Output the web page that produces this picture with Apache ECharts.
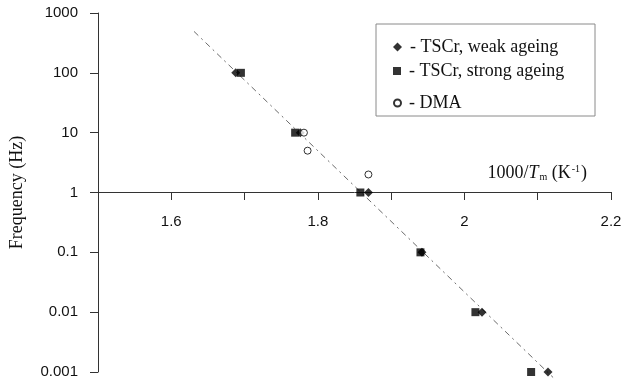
<!DOCTYPE html>
<html>
<head>
<meta charset="utf-8">
<script src="https://cdn.jsdelivr.net/npm/echarts@6/dist/echarts.min.js"></script>
<style>
  html, body { margin: 0; padding: 0; background: #fff; }
  #chart { width: 636px; height: 383px; }
</style>
</head>
<body>
<div id="chart"></div>
<script>
// values
const freqLevels = [100, 10, 1, 0.1, 0.01, 0.001];
const weakX = [1.688, 1.776, 1.869, 1.942, 2.024, 2.114];
const strongX = [1.695, 1.769, 1.858, 1.940, 2.015, 2.091];
const dmaX = [1.781, 1.786, 1.869];
const dmaY = [10, 5, 2];
const fitX = [1.631, 2.121];
const fitY = [492, 0.00081];

const xTickLabels = ['1.6', '1.8', '2', '2.2'];
const yTickLabels = ['0.001', '0.01', '0.1', '1', '10', '100', '1000'];

const seriesNames = ['TSCr, weak ageing', 'TSCr, strong ageing', 'DMA'];

const zip = (xs, ys) => xs.map((x, i) => [x, ys[i]]);

const serif = '"Liberation Serif", "DejaVu Serif", serif';
const sans = '"Liberation Sans", Arial, sans-serif';
const axisColor = '#333';

const chart = echarts.init(document.getElementById('chart'), null, { renderer: 'canvas' });

const legendText = {
    fontFamily: serif,
    fontSize: 18,
    color: '#111',
    padding: [0, 0, 0, 3]
};

const makeLegend = (name, icon, top, size) => ({
    data: [{ name: name, icon: icon }],
    left: 388,
    top: top,
    orient: 'vertical',
    itemWidth: size,
    itemHeight: size,
    selectedMode: false,
    formatter: '- {name}',
    textStyle: legendText
});

const option = {
    animation: false,
    grid: {
        left: 97,
        right: 25,
        top: 13,
        bottom: 11,
        containLabel: false
    },
    graphic: [
        {
            type: 'rect',
            shape: { x: 376, y: 24, width: 219, height: 92 },
            style: { fill: 'none', stroke: '#8a8a8a', lineWidth: 1 },
            z: 10
        }
    ],
    legend: [
        makeLegend(seriesNames[0], 'diamond', 33, 9),
        makeLegend(seriesNames[1], 'rect', 57, 8),
        makeLegend(seriesNames[2], 'circle', 89, 7)
    ],
    xAxis: {
        type: 'value',
        min: 1.5,
        max: 2.2,
        interval: 0.1,
        offset: -180,
        name: '{a|1000/}{i|T}{s|m}{a| (K}{p|-1}{a|)}',
        nameLocation: 'end',
        nameGap: -24,
        nameTextStyle: {
            align: 'right',
            verticalAlign: 'bottom',
            padding: [0, 0, 10, 0],
            rich: {
                a: { fontFamily: serif, fontSize: 18, color: '#111' },
                i: { fontFamily: serif, fontSize: 18, fontStyle: 'italic', color: '#111' },
                s: { fontFamily: serif, fontSize: 10, color: '#111', verticalAlign: 'bottom', padding: [0, 0, 0, 1] },
                p: { fontFamily: serif, fontSize: 10, color: '#111', verticalAlign: 'top', padding: [0, 1, 0, 1] }
            }
        },
        axisLine: { onZero: false, lineStyle: { color: axisColor, width: 1 } },
        axisTick: { length: 8, lineStyle: { color: axisColor } },
        splitLine: { show: false },
        axisLabel: {
            margin: 22,
            fontFamily: sans,
            fontSize: 15,
            color: '#111',
            formatter: (v) => {
                const s = String(Math.round(v * 10) / 10);
                return xTickLabels.includes(s) ? s : '';
            }
        }
    },
    yAxis: {
        type: 'log',
        logBase: 10,
        min: 0.001,
        max: 1000,
        name: 'Frequency (Hz)',
        nameLocation: 'middle',
        nameGap: 72,
        nameRotate: 90,
        nameTextStyle: { fontFamily: serif, fontSize: 18, color: '#111' },
        axisLine: { show: true, lineStyle: { color: axisColor, width: 1 } },
        axisTick: { length: 8, lineStyle: { color: axisColor } },
        splitLine: { show: false },
        axisLabel: {
            margin: 20,
            fontFamily: sans,
            fontSize: 15,
            color: '#111',
            formatter: (v) => {
                const s = String(Number(v.toPrecision(3)));
                return yTickLabels.includes(s) ? s : '';
            }
        }
    },
    series: [
        {
            name: 'fit',
            type: 'line',
            data: zip(fitX, fitY),
            symbol: 'none',
            clip: false,
            lineStyle: { color: '#6a6a6a', width: 1, type: [6, 4, 2, 4] },
            z: 1
        },
        {
            name: seriesNames[0],
            type: 'scatter',
            data: zip(weakX, freqLevels),
            symbol: 'diamond',
            symbolSize: 9,
            itemStyle: { color: '#000' },
            z: 3
        },
        {
            name: seriesNames[1],
            type: 'scatter',
            data: zip(strongX, freqLevels),
            symbol: 'rect',
            symbolSize: 8,
            itemStyle: { color: '#000' },
            z: 3
        },
        {
            name: seriesNames[2],
            type: 'scatter',
            data: zip(dmaX, dmaY),
            symbol: 'circle',
            symbolSize: 7,
            itemStyle: { color: '#fff', borderColor: '#000', borderWidth: 1 },
            z: 3
        }
    ]
};

chart.setOption(option);
</script>
</body>
</html>
